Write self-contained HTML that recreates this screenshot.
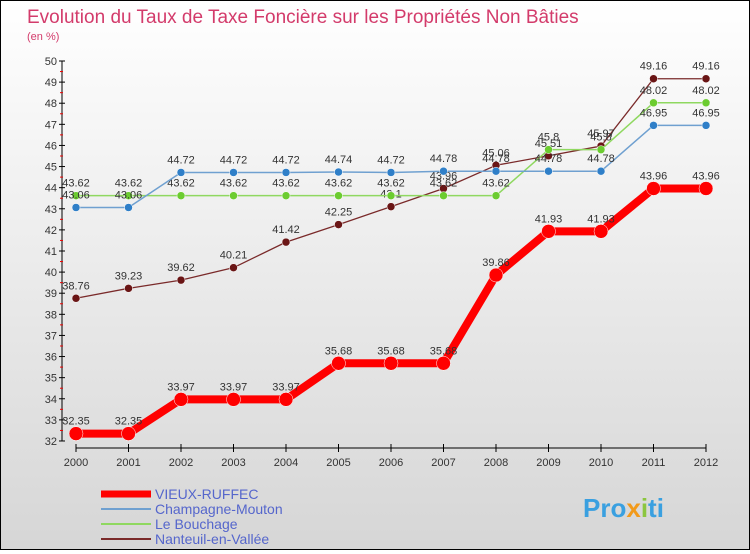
<!DOCTYPE html>
<html><head><meta charset="utf-8"><style>
body{margin:0;width:750px;height:550px;overflow:hidden;font-family:"Liberation Sans",sans-serif}
#wrap{position:relative;width:748px;height:548px;border:1px solid #000;background:linear-gradient(#fff,#d6d6d6)}
</style></head><body>
<div id="wrap">
<svg id="svg" width="748" height="548" xmlns="http://www.w3.org/2000/svg">
<text x="26" y="22" font-size="19" fill="#d33b6b">Evolution du Taux de Taxe Foncière sur les Propriétés Non Bâties</text>
<text x="26" y="39" font-size="11" fill="#d33b6b">(en %)</text>
<g id="axes"></g><g id="series"></g>
<g>
<line x1="100" y1="493" x2="150" y2="493" stroke="#f00" stroke-width="7"/>
<text x="154" y="498" font-size="14" fill="#5566cc">VIEUX-RUFFEC</text>
<line x1="100" y1="508" x2="150" y2="508" stroke="#6fa0d0" stroke-width="2"/>
<text x="154" y="513" font-size="14" fill="#5566cc">Champagne-Mouton</text>
<line x1="100" y1="523" x2="150" y2="523" stroke="#8fd860" stroke-width="2"/>
<text x="154" y="528" font-size="14" fill="#5566cc">Le Bouchage</text>
<line x1="100" y1="538" x2="150" y2="538" stroke="#7a2a2a" stroke-width="2"/>
<text x="154" y="543" font-size="14" fill="#5566cc">Nanteuil-en-Vallée</text>
</g>
<text x="582" y="516" font-size="26" font-weight="bold" fill="#3aa0e0">Pro<tspan fill="#f29a1a">x</tspan><tspan fill="#8cc63f">i</tspan>ti</text>
</svg></div>
<script>
const years=[2000,2001,2002,2003,2004,2005,2006,2007,2008,2009,2010,2011,2012];
const vieux=[32.35,32.35,33.97,33.97,33.97,35.68,35.68,35.68,39.86,41.93,41.93,43.96,43.96];
const champagne=[43.06,43.06,44.72,44.72,44.72,44.74,44.72,44.78,44.78,44.78,44.78,46.95,46.95];
const bouchage=[43.62,43.62,43.62,43.62,43.62,43.62,43.62,43.62,43.62,45.8,45.8,48.02,48.02];
const nanteuil=[38.76,39.23,39.62,40.21,41.42,42.25,43.1,43.96,45.06,45.51,45.97,49.16,49.16];
const yTicks=[32,33,34,35,36,37,38,39,40,41,42,43,44,45,46,47,48,49,50];
const NS="http://www.w3.org/2000/svg";
const X=i=>75+i*52.5, Y=v=>60+(50-v)*21.11;
function mk(t,a,p){const e=document.createElementNS(NS,t);for(const k in a)e.setAttribute(k,a[k]);p.appendChild(e);return e;}
const ax=document.getElementById('axes'), sr=document.getElementById('series');
let l=mk('line',{x1:61,y1:Y(50),x2:61,y2:Y(32),stroke:'#000'},ax);


l=mk('line',{x1:X(0),y1:447,x2:X(12),y2:447,stroke:'#000'},ax);


yTicks.forEach(v=>{
 mk('line',{x1:58,y1:Y(v),x2:64,y2:Y(v),stroke:'#000'},ax);
 if(v<50)mk('line',{x1:59,y1:Y(v+0.5),x2:62,y2:Y(v+0.5),stroke:'#e00'},ax);
 const t=mk('text',{x:56,y:Y(v)+4,'font-size':11,'text-anchor':'end',fill:'#333'},ax);t.textContent=v;
 
 
});
years.forEach((yr,i)=>{
 mk('line',{x1:X(i),y1:443,x2:X(i),y2:451,stroke:'#000'},ax);
 const t=mk('text',{x:X(i),y:465,'font-size':11,'text-anchor':'middle',fill:'#333'},ax);t.textContent=yr;
 
 
});
function draw(data,name,color,lw,r,dot){
 const g=mk('g',{},sr);
 
 
 const p=mk('polyline',{points:data.map((v,i)=>X(i)+','+Y(v)).join(' '),fill:'none',stroke:color,'stroke-width':lw,'stroke-linejoin':'round'},g);
 
 
 data.forEach((v,i)=>{
  const c=mk('circle',{cx:X(i),cy:Y(v),r:r,fill:dot,stroke:'#fff','stroke-width':0.5},g);
  
  
  const t=mk('text',{x:X(i),y:Y(v)-9,'font-size':11,'text-anchor':'middle',fill:'#333'},g);t.textContent=v;
  
  
 });
}
draw(nanteuil,'nanteuil-en-vallee','#7a2a2a',1.3,4,'#6a1515');
draw(bouchage,'le-bouchage','#8fd860',1.5,4,'#6ccc30');
draw(champagne,'champagne-mouton','#6fa0d0',1.5,4,'#2f7fc8');
draw(vieux,'vieux-ruffec','#f00',8,7,'#f00');
</script>
</body></html>
